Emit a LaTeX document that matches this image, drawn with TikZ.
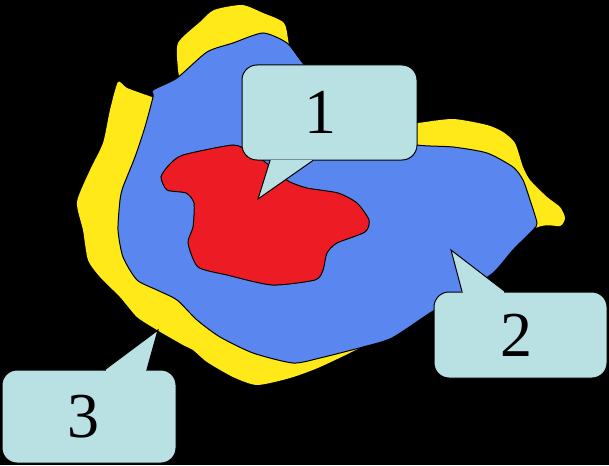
\documentclass[tikz,border=0pt]{standalone}
\usepackage{fontspec}
\setmainfont{Liberation Serif}
\usepackage{tikz}
\usetikzlibrary{calc}
\definecolor{zoneyellow}{RGB}{255,233,25}
\definecolor{zoneblue}{RGB}{90,135,239}
\definecolor{zonered}{RGB}{236,27,36}
\definecolor{calloutfill}{RGB}{185,224,227}
\tikzstyle{zone} = [draw=black,line width=1pt,smooth cycle,tension=0.4]
\tikzstyle{callout} = [draw=black,line width=1pt,fill=calloutfill,rounded corners=15pt,
                       inner sep=0pt,font=\fontsize{64}{64}\selectfont]
\tikzstyle{pointer} = [draw=black,line width=1pt,line join=miter]

\begin{document}
\begin{tikzpicture}[x=1pt,y=-1pt]
    \fill[black] (0,0) rectangle (609,465);
    \useasboundingbox (0,0) rectangle (609,465);
    % outer zone
    \fill[zoneyellow,smooth cycle,tension=0.4] plot coordinates {
        (118,82) (127,88) (152,97) (165,100) (180,85) (178,70) (178,43) (200,22)
        (214,10) (242,5) (263,13) (284,23) (289,45) (300,100) (400,125) (418,123)
        (453,119) (487,125) (503,132) (515,143) (523,167) (530,180) (547,197)
        (560,207) (565,218) (560,226) (538,227) (470,260) (400,320) (365,345)
        (320,367) (290,378) (257,385) (233,377) (207,362) (193,350) (183,345)
        (157,330) (137,317) (120,297) (100,277) (88,260) (83,230) (77,202)
        (90,170) (103,143) (110,110)};
    % middle zone
    \draw[zone,fill=zoneblue] plot coordinates {
        (263,33) (287,43) (302,62) (330,95) (380,135) (417,145) (453,147)
        (487,153) (513,167) (523,180) (530,200) (537,223) (533,230) (513,250)
        (493,273) (460,295) (430,313) (392,338) (363,347) (320,358) (293,363)
        (253,353) (220,337) (197,320) (177,300) (157,290) (137,280) (123,257)
        (118,230) (120,200) (123,187) (135,157) (145,127) (153,97) (153,90)
        (177,78) (207,52) (233,43)};
    % inner zone
    \draw[zone,fill=zonered] plot coordinates {
        (233,145) (249,152) (265,162) (280,175) (290,182) (307,188) (338,193)
        (357,203) (369,220) (365,232) (337,243) (327,253) (323,270) (315,280)
        (272,285) (227,275) (198,267) (188,243) (193,227) (194,203) (186,193)
        (167,190) (161,177) (169,165) (183,155)};

    % callout 1
    \node[callout,minimum width=175pt,minimum height=95pt] (one) at (329.5,112.5) {\hspace*{-18pt}1};
    \coordinate (tip1) at (258,199);
    \fill[calloutfill] ([xshift=-59.5pt]one.south) -- (tip1) -- ([xshift=-16.5pt]one.south) -- cycle;
    \fill[calloutfill] ([xshift=-58.8pt,yshift=-1pt]one.south) rectangle ([xshift=-17.2pt,yshift=1pt]one.south);
    \draw[pointer] ([xshift=-59.5pt]one.south) -- (tip1) -- ([xshift=-16.5pt]one.south);

    % callout 2
    \node[callout,minimum width=173pt,minimum height=86pt] (two) at (520.5,335) {\hspace*{-8pt}2};
    \coordinate (tip2) at (451,250);
    \fill[calloutfill] ([xshift=-58.5pt]two.north) -- (tip2) -- ([xshift=-15.5pt]two.north) -- cycle;
    \fill[calloutfill] ([xshift=-57.8pt,yshift=-1pt]two.north) rectangle ([xshift=-16.2pt,yshift=1pt]two.north);
    \draw[pointer] ([xshift=-58.5pt]two.north) -- (tip2) -- ([xshift=-15.5pt]two.north);

    % callout 3
    \node[callout,minimum width=174pt,minimum height=93pt] (three) at (89,416.5) {\hspace*{-12pt}3};
    \coordinate (tip3) at (158,330);
    \fill[calloutfill] ([xshift=16pt]three.north) -- (tip3) -- ([xshift=58pt]three.north) -- cycle;
    \fill[calloutfill] ([xshift=16.7pt,yshift=-1pt]three.north) rectangle ([xshift=57.3pt,yshift=1pt]three.north);
    \draw[pointer] ([xshift=16pt]three.north) -- (tip3) -- ([xshift=58pt]three.north);
\end{tikzpicture}
\end{document}
